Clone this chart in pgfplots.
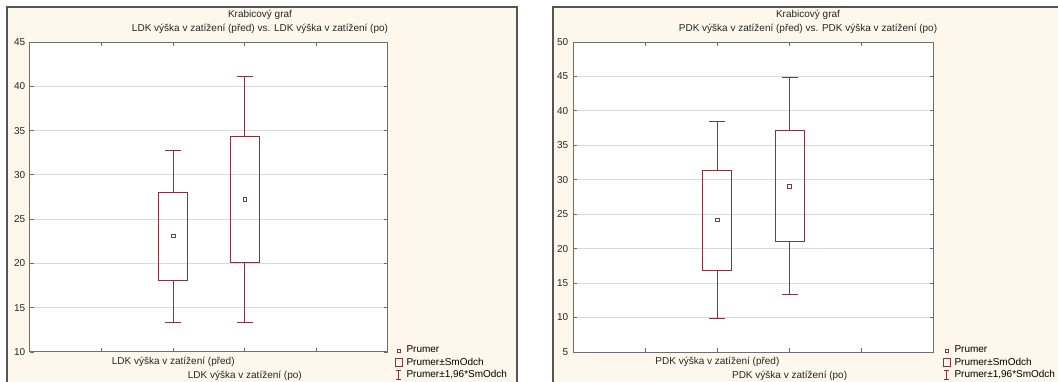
\documentclass[border=0pt]{standalone}
\usepackage{fontspec}
\setmainfont{Liberation Sans}
\usepackage{pgfplots}
\pgfplotsset{compat=1.18}
\usepgfplotslibrary{statistics}
\definecolor{mc}{RGB}{125,55,65}
\definecolor{bg}{RGB}{253,248,235}
\definecolor{frm}{RGB}{85,85,85}
\definecolor{gridc}{RGB}{218,218,218}
\definecolor{axc}{RGB}{110,110,110}
\newcommand\fs{\fontsize{7.5}{9}\selectfont}

\pgfplotsset{
 panel/.style={
  scale only axis, width=268.5pt, height=232.5pt, anchor=north west,
  axis background/.style={fill=white},
  xmin=0, xmax=5,
  xtick={1,2,4},
  tick align=inside, major tick length=3pt,
  tick style={axc, line width=0.6pt},
  axis line style={axc, line width=0.75pt},
  ymajorgrids, grid style={gridc, line width=0.75pt},
  tick label style={font=\fs, text=black!85},
  /pgf/number format/assume math mode=true,
  ytick distance=5,
  extra x ticks={3},
  extra x tick style={xticklabel style={yshift=-10.5pt}},
  legend style={draw=none, fill=none, font=\fs, at={(1,0)}, anchor=north west,
    xshift=5pt, yshift=5.3pt, inner sep=0pt, row sep=1.1pt,
    nodes={inner sep=0.6pt},
    /tikz/every odd column/.append style={column sep=2.5pt}},
  legend cell align=left,
  boxplot/draw direction=y,
 },
 bx/.style={mc, line width=0.75pt, forget plot},
 mn/.style={forget plot, only marks, mark=square*, mark options={draw=mc, fill=white, line width=0.6pt}, mark size=1.35pt},
}

\newcommand\mylegend{%
  \addlegendimage{legend image code/.code={\draw[mc,fill=white,line width=0.6pt] (1.7pt,-1.1pt) rectangle (3.9pt,1.1pt);}}
  \addlegendentry{Prumer}
  \addlegendimage{legend image code/.code={\draw[mc,line width=0.6pt] (0.3pt,-3pt) rectangle (5.3pt,3pt);}}
  \addlegendentry{Prumer±SmOdch}
  \addlegendimage{legend image code/.code={\draw[mc,line width=0.6pt] (2.8pt,-3.6pt) -- (2.8pt,3.6pt) (0.8pt,-3.6pt) -- (4.8pt,-3.6pt) (0.8pt,3.6pt) -- (4.8pt,3.6pt);}}
  \addlegendentry{Prumer±1,96*SmOdch}
}

\begin{document}
\begin{tikzpicture}
\useasboundingbox (0,0) rectangle (793.5pt,-286.5pt);
\clip (0,0) rectangle (793.5pt,-286.5pt);
\fill[white] (0,0) rectangle (793.5pt,-286.5pt);
\draw[frm, fill=bg, line width=0.8pt] (5.25pt,-5.25pt) rectangle (387.75pt,-300pt);
\draw[frm, fill=bg, line width=0.8pt] (414.75pt,-5.25pt) rectangle (810pt,-300pt);

\node[font=\fontsize{7.5}{10.5}\selectfont, align=center, text=black!85] at (195pt,-16.5pt)
  {Krabicový graf\\LDK výška v zatížení (před) vs. LDK výška v zatížení (po)};
\node[font=\fontsize{7.5}{10.5}\selectfont, align=center, text=black!85] at (606pt,-16.5pt)
  {Krabicový graf\\PDK výška v zatížení (před) vs. PDK výška v zatížení (po)};

\begin{axis}[panel, at={(22.5pt,-31.5pt)}, ymin=10, ymax=45,
  xticklabels={,LDK výška v zatížení (před),},
  extra x tick labels={LDK výška v zatížení (po)}]
\addplot[bx, boxplot prepared={draw position=2, lower whisker=13.3, lower quartile=18.1,
  median=23.1, upper quartile=28.0, upper whisker=32.8, box extend=0.4, whisker extend=0.22,
  every median/.style={draw=none}}] coordinates {};
\addplot[bx, boxplot prepared={draw position=3, lower whisker=13.3, lower quartile=20.1,
  median=27.2, upper quartile=34.3, upper whisker=41.1, box extend=0.4, whisker extend=0.22,
  every median/.style={draw=none}}] coordinates {};
\addplot[mn] coordinates {(2,23.1) (3,27.2)};
\mylegend
\end{axis}

\begin{axis}[panel, at={(429.75pt,-31.5pt)}, width=270.75pt, ymin=5, ymax=50,
  legend style={xshift=1.5pt},
  xticklabels={,PDK výška v zatížení (před),},
  extra x tick labels={PDK výška v zatížení (po)}]
\addplot[bx, boxplot prepared={draw position=2, lower whisker=9.9, lower quartile=16.9,
  median=24.2, upper quartile=31.4, upper whisker=38.4, box extend=0.4, whisker extend=0.22,
  every median/.style={draw=none}}] coordinates {};
\addplot[bx, boxplot prepared={draw position=3, lower whisker=13.3, lower quartile=21.0,
  median=29.0, upper quartile=37.1, upper whisker=44.8, box extend=0.4, whisker extend=0.22,
  every median/.style={draw=none}}] coordinates {};
\addplot[mn] coordinates {(2,24.2) (3,29.0)};
\mylegend
\end{axis}
\end{tikzpicture}
\end{document}
